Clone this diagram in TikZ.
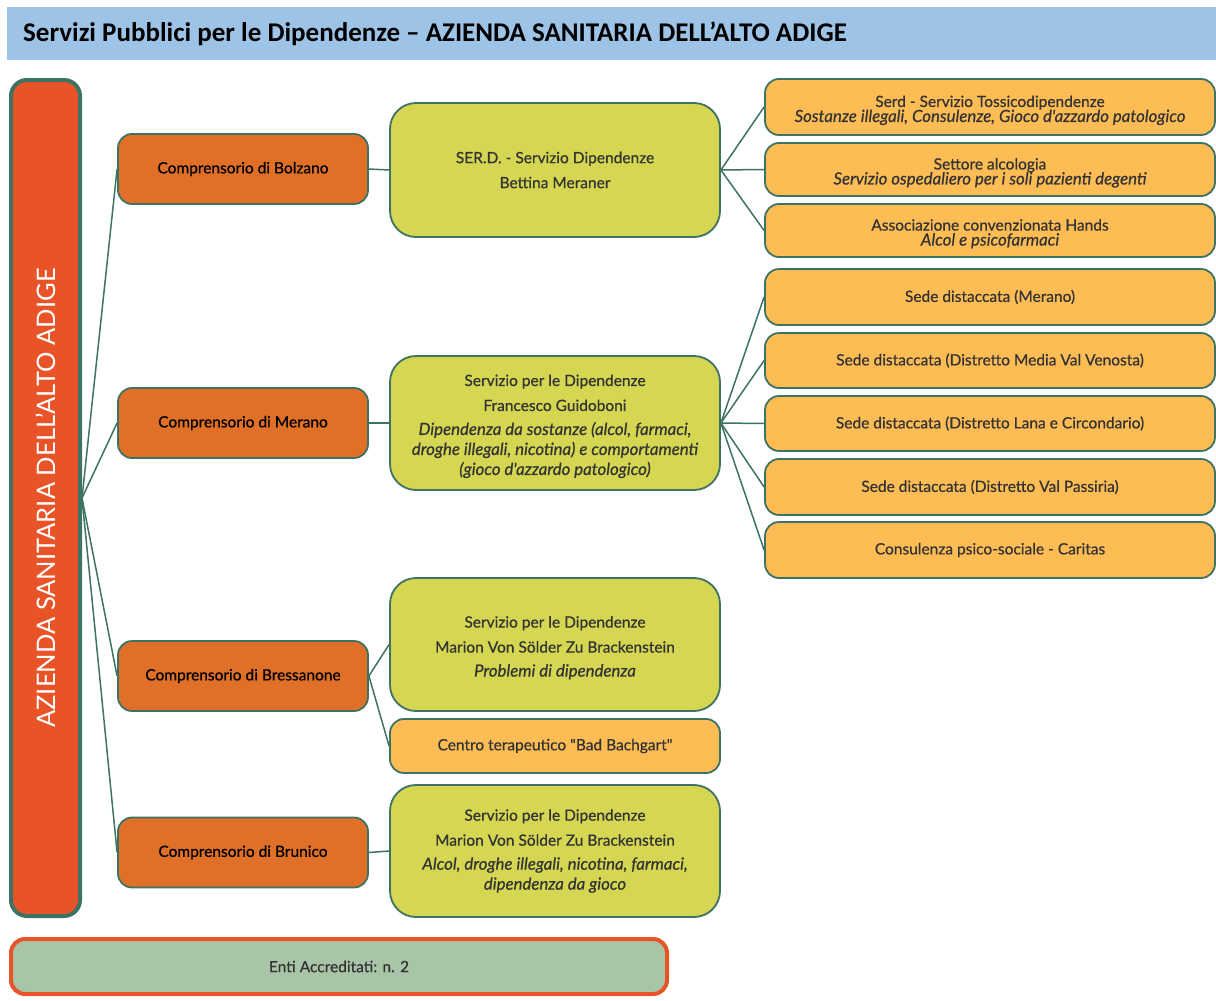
\documentclass[tikz,border=0pt]{standalone}
\usepackage{fontspec}
\setmainfont{Lato}
\newfontfamily\bodyfont{Lato}[FakeBold=0.6]
\newfontfamily\plainfont{Lato}
\newfontfamily\titlefont{Carlito}
% italic description lines, set a little larger than the upright text
\newcommand\descit{\itshape\fontsize{16.8}{18}\selectfont}
% extra room above a first line
\newcommand\topstrut{\rule{0pt}{18pt}}
\begin{document}
\definecolor{lineG}{HTML}{3E7262}
\definecolor{barO}{HTML}{E85427}
\definecolor{compO}{HTML}{E07027}
\definecolor{servY}{HTML}{D5D651}
\definecolor{subO}{HTML}{FEBC55}
\definecolor{titleB}{HTML}{9DC3E6}
\definecolor{accG}{HTML}{A8C5A7}
\definecolor{txtG}{HTML}{333333}
\tikzset{
  conn/.style={draw=lineG, line width=1.5pt},
  box/.style={draw=lineG, line width=1.8pt, rounded corners=14pt, align=center, inner sep=2pt, font=\bodyfont\fontsize{15.5}{18}\selectfont},
  comp/.style={box, fill=compO, minimum width=250pt, minimum height=70pt, text=black},
  serv/.style={box, fill=servY, rounded corners=26pt, minimum width=330pt, text=txtG},
  sub/.style={box, fill=subO, minimum width=450pt, text=txtG},
}
\begin{tikzpicture}[x=1pt, y=-1pt]
\useasboundingbox (0,0) rectangle (1216,1001);
% title band
\fill[titleB] (7,7) rectangle (1216,60);
\node[anchor=west, font=\titlefont\bfseries\fontsize{27}{30}\selectfont, inner sep=0pt] (title) at (23,34)
  {Servizi Pubblici per le Dipendenze – AZIENDA SANITARIA DELL’ALTO ADIGE};

% main vertical bar
\node[draw=lineG, line width=4pt, fill=barO, rounded corners=16pt, minimum width=69pt, minimum height=836pt, inner sep=0pt] (bar) at (45.5,498) {};
\node[rotate=90, text=white, font=\plainfont\fontsize{25.5}{28}\selectfont] (barlabel) at (45.5,498) {AZIENDA SANITARIA DELL’ALTO ADIGE};

% districts
\node[comp] (bz) at (243,169) {Comprensorio di Bolzano};
\node[comp] (me) at (243,423) {Comprensorio di Merano};
\node[comp] (bx) at (243,676) {Comprensorio di Bressanone};
\node[comp] (br) at (243,852.5) {Comprensorio di Brunico};

% services
\node[serv, minimum height=134pt] (sbz) at (555,170) {SER.D. - Servizio Dipendenze\\[7pt]Bettina Meraner};
\node[serv, minimum height=134pt] (sme) at (555,423) {\topstrut Servizio per le Dipendenze\\[7pt]Francesco Guidoboni\\[6pt]\descit Dipendenza da sostanze (alcol, farmaci,\\[2pt]\descit droghe illegali, nicotina) e comportamenti\\[2pt]\descit (gioco d'azzardo patologico)};
\node[serv, minimum height=133pt] (sbx) at (555,644.5) {\topstrut Servizio per le Dipendenze\\[7pt]Marion Von Sölder Zu Brackenstein\\[6pt]\descit Problemi di dipendenza};
\node[box, fill=subO, minimum width=330pt, minimum height=54pt, text=txtG] (cbb) at (555,746) {Centro terapeutico "Bad Bachgart"};
\node[serv, minimum height=132pt] (sbr) at (555,851) {Servizio per le Dipendenze\\[7pt]Marion Von Sölder Zu Brackenstein\\[6pt]\descit Alcol, droghe illegali, nicotina, farmaci,\\[2pt]\descit dipendenza da gioco};

% sub-units
\node[sub, minimum height=56pt] (r1) at (990,107) {\topstrut Serd - Servizio Tossicodipendenze\\[-3pt]\descit Sostanze illegali, Consulenze, Gioco d'azzardo patologico};
\node[sub, minimum height=53pt] (r2) at (990,169.5) {\topstrut Settore alcologia\\[-3pt]\descit Servizio ospedaliero per i soli pazienti degenti};
\node[sub, minimum height=53pt] (r3) at (990,230.5) {\topstrut Associazione convenzionata Hands\\[-3pt]\descit Alcol e psicofarmaci};
\node[sub, minimum height=56pt] (r4) at (990,297) {Sede distaccata (Merano)};
\node[sub, minimum height=55pt] (r5) at (990,360.5) {Sede distaccata (Distretto Media Val Venosta)};
\node[sub, minimum height=55pt] (r6) at (990,423.5) {Sede distaccata (Distretto Lana e Circondario)};
\node[sub, minimum height=56pt] (r7) at (990,487) {Sede distaccata (Distretto Val Passiria)};
\node[sub, minimum height=56pt] (r8) at (990,550) {Consulenza psico-sociale - Caritas};

% accredited bodies
\node[box, draw=barO, line width=4pt, fill=accG, minimum width=656pt, minimum height=55pt, text=txtG] (acc) at (339,966.5) {Enti Accreditati: n. 2};

% connectors
\foreach \n in {bz,me,bx,br} \draw[conn] (bar.east) -- (\n.west);
\draw[conn] (bz.east) -- (sbz.west);
\draw[conn] (me.east) -- (sme.west);
\draw[conn] (bx.east) -- (sbx.west);
\draw[conn] (bx.east) -- (cbb.west);
\draw[conn] (br.east) -- (sbr.west);
\foreach \n in {r1,r2,r3} \draw[conn] (sbz.east) -- (\n.west);
\foreach \n in {r4,r5,r6,r7,r8} \draw[conn] (sme.east) -- (\n.west);
\end{tikzpicture}
\end{document}
